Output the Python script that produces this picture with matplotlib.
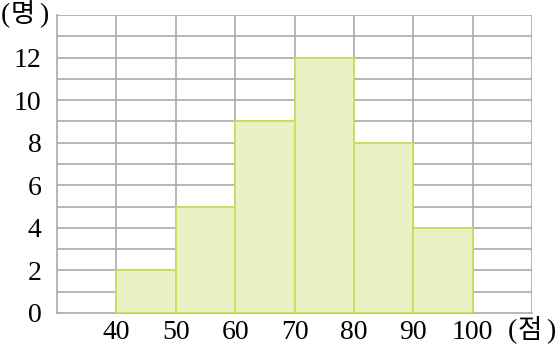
import numpy as np
import matplotlib.pyplot as plt

bin_edges = [40, 50, 60, 70, 80, 90, 100]
counts = [2, 5, 9, 12, 8, 4]
x_ticks = [40, 50, 60, 70, 80, 90, 100]
y_ticks = [0, 2, 4, 6, 8, 10, 12]

serif = 'Liberation Serif'
kr = ['Noto Sans CJK KR', 'DejaVu Sans']

fig = plt.figure(figsize=(5.58, 3.54), dpi=100)
ax = fig.add_axes([57 / 558, 1 - 313 / 354, (532 - 57) / 558, (313 - 15) / 354])

ax.set_xlim(30, 110)
ax.set_ylim(0, 14)

# grid
for y in range(1, 15):
    ax.axhline(y, color='#aaaaaa', lw=1.2, zorder=1)
for x in range(40, 111, 10):
    ax.axvline(x, color='#aaaaaa', lw=1.2, zorder=1)

widths = np.diff(bin_edges)
ax.bar(bin_edges[:-1], counts, width=widths, align='edge',
       color='#e9f2c5', edgecolor='#c8df5a', lw=1.3, zorder=3)

for s in ['top', 'right']:
    ax.spines[s].set_visible(False)
for s in ['left', 'bottom']:
    ax.spines[s].set_color('#aaaaaa')
    ax.spines[s].set_linewidth(1.2)
    ax.spines[s].set_zorder(2)

ax.set_xticks(x_ticks)
ax.set_yticks(y_ticks)
ax.set_xticklabels([str(v) for v in x_ticks], fontfamily=serif, fontsize=20)
ax.set_yticklabels([str(v) for v in y_ticks], fontfamily=serif, fontsize=20)
ax.tick_params(axis='x', length=0, pad=5)
ax.tick_params(axis='y', length=0, pad=11)

fig.text(1 / 558, 1 - 16 / 354, '(', fontfamily=serif, fontsize=20, va='center', ha='left')
fig.text(11 / 558, 1 - 15 / 354, '명', fontfamily=kr, fontsize=19, va='center', ha='left')
fig.text(39 / 558, 1 - 16 / 354, ')', fontfamily=serif, fontsize=20, va='center', ha='left')

fig.text(508 / 558, 1 - 332 / 354, '(', fontfamily=serif, fontsize=20, va='center', ha='left')
fig.text(518 / 558, 1 - 331 / 354, '점', fontfamily=kr, fontsize=19, va='center', ha='left')
fig.text(546 / 558, 1 - 332 / 354, ')', fontfamily=serif, fontsize=20, va='center', ha='left')

fig.savefig('out.png', dpi=100)
